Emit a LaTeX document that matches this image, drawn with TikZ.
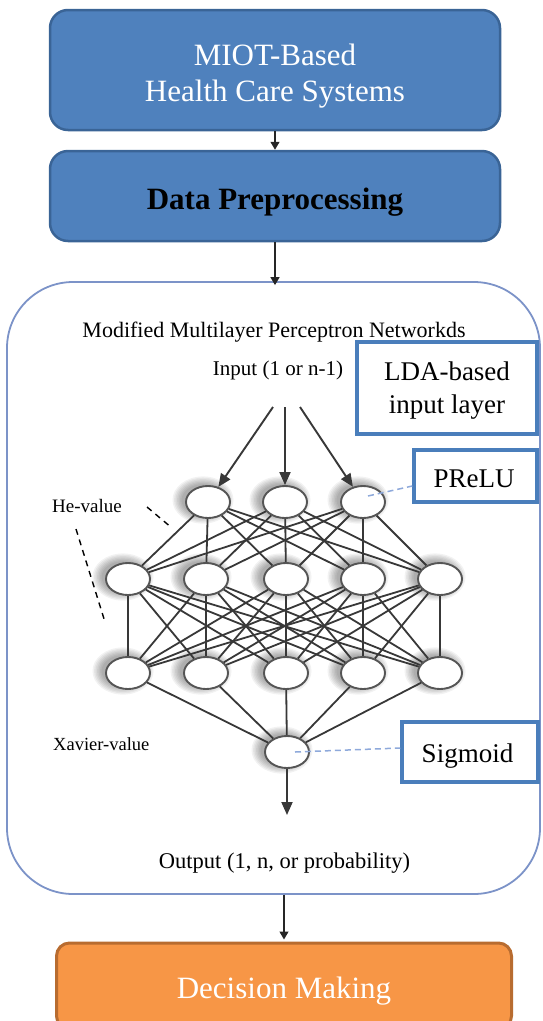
\documentclass[tikz,border=0pt]{standalone}
\usepackage{fontspec}
\setmainfont{Liberation Serif}
\usetikzlibrary{shapes.geometric,arrows.meta}

\definecolor{stageblue}{HTML}{4F81BD}
\definecolor{stageedge}{HTML}{3A6496}
\definecolor{stageorange}{HTML}{F79646}
\definecolor{orangeedge}{HTML}{B86C30}
\definecolor{frameblue}{HTML}{7C93C8}
\definecolor{tagedge}{HTML}{4A7EBB}
\definecolor{leaderblue}{HTML}{8EA9DB}
\definecolor{linkgray}{HTML}{383838}
\definecolor{neurongray}{HTML}{555555}

\begin{document}
\begin{tikzpicture}[x=1pt,y=-1pt,
  stagebox/.style={draw=stageedge, line width=2.5pt, fill=stageblue,
    rounded corners=18pt, minimum width=450pt, inner sep=0pt},
  decisionbox/.style={draw=orangeedge, line width=3pt, fill=stageorange,
    rounded corners=13pt, minimum width=455pt, minimum height=86pt, inner sep=0pt},
  framebox/.style={draw=frameblue, line width=1.8pt, fill=white,
    rounded corners=66pt, minimum width=533pt, minimum height=612pt, inner sep=0pt},
  tagbox/.style={draw=tagedge, line width=3.5pt, fill=white, inner sep=0pt},
  neuron/.style={ellipse, draw=neurongray, line width=1.9pt, fill=white,
    minimum width=44pt, minimum height=32pt, inner sep=0pt},
  link/.style={draw=linkgray, line width=1.8pt},
  flowarrow/.style={draw=black!85, line width=1.3pt,
    -{Triangle[length=8pt,width=9pt]}},
  netarrow/.style={draw=linkgray, line width=1.9pt,
    -{Triangle[length=13pt,width=11pt]}},
  leader/.style={draw=leaderblue, line width=1.5pt, dash pattern=on 6pt off 4pt},
  hint/.style={draw=black, line width=1.4pt, dash pattern=on 6pt off 5pt},
  txt/.style={anchor=base, inner sep=0pt},
]
\useasboundingbox (0,0) rectangle (542,1021);

% ---- pipeline stages ----
\node[stagebox, minimum height=120pt] (miot) at (275,70) {};
\node[txt, text=white, font=\fontsize{31}{37}\selectfont] (miotA) at (275,65) {MIOT-Based};
\node[txt, text=white, font=\fontsize{31}{37}\selectfont] (miotB) at (275,101) {Health Care Systems};

\node[stagebox, minimum height=90pt] (prep) at (275,196) {};
\node[txt, font=\fontsize{31}{37}\selectfont\bfseries] (prepT) at (275,209) {Data Preprocessing};

\node[framebox] (mlp) at (273.5,588) {};

\node[decisionbox] (dec) at (284,986) {};
\node[txt, text=white, font=\fontsize{31}{37}\selectfont] (decT) at (284,998) {Decision Making};

\draw[flowarrow] (miot.south) -- (prep.north);
\draw[flowarrow, shorten >=-4pt] (prep.south) -- (prep.south |- mlp.north);
\draw[flowarrow, shorten >=2pt] (mlp.south -| dec.north) -- (dec.north);

% ---- texts inside the network frame ----
\node[txt, font=\fontsize{22}{26}\selectfont] (title) at (274,337) {Modified Multilayer Perceptron Networkds};
\node[txt, font=\fontsize{21}{25}\selectfont] (inputT) at (278,375) {Input (1 or n-1)};
\node[txt, font=\fontsize{22.5}{26}\selectfont] (outputT) at (284.5,868) {Output (1, n, or probability)};
\node[anchor=base west, inner sep=0pt, font=\fontsize{19}{23}\selectfont] (heT) at (52,512) {He-value};
\node[anchor=base west, inner sep=0pt, font=\fontsize{18.5}{22}\selectfont] (xavT) at (53,750) {Xavier-value};

% ---- annotation boxes ----
\node[tagbox, minimum width=180pt, minimum height=92pt] (lda) at (447,388) {};
\node[txt, font=\fontsize{27}{32}\selectfont] (ldaA) at (447,380) {LDA-based};
\node[txt, font=\fontsize{27}{32}\selectfont] (ldaB) at (447,413) {input layer};

\node[tagbox, minimum width=123pt, minimum height=52pt] (prelu) at (475.5,476) {};
\node[txt, font=\fontsize{27}{32}\selectfont] (preluT) at (474,487) {PReLU};

\node[tagbox, minimum width=136pt, minimum height=60pt] (sig) at (470,752) {};
\node[txt, font=\fontsize{27}{32}\selectfont] (sigT) at (467.5,762) {Sigmoid};

% ---- neuron positions ----
\coordinate (p11) at (208,502);
\coordinate (p12) at (285,502);
\coordinate (p13) at (363,502);
\foreach \i/\x in {1/128,2/206,3/286,4/363,5/440} {
  \coordinate (p2\i) at (\x,579);
  \coordinate (p3\i) at (\x,673);
}
\coordinate (pout) at (287,752);

% soft halos behind the neurons, heavier towards the upper left
\foreach \p in {p11,p12,p13,p21,p22,p23,p24,p25,p31,p32,p33,p34,p35,pout} {
  \foreach \k in {1,...,7} {
    \fill[black, opacity=0.05] ([xshift=-5pt,yshift=2pt]\p)
      ellipse [x radius=20+1.5*\k, y radius=14.5+1.3*\k];
  }
}

% ---- neurons ----
\foreach \i in {1,2,3} { \node[neuron] (n1\i) at (p1\i) {}; }
\foreach \i in {1,...,5} {
  \node[neuron] (n2\i) at (p2\i) {};
  \node[neuron] (n3\i) at (p3\i) {};
}
\node[neuron] (out) at (pout) {};

% ---- connections ----
\foreach \a in {1,2,3} { \foreach \b in {1,...,5} { \draw[link] (n1\a) -- (n2\b); } }
\foreach \a in {1,...,5} { \foreach \b in {1,...,5} { \draw[link] (n2\a) -- (n3\b); } }
\foreach \a in {1,...,5} { \draw[link] (n3\a) -- (out); }

% input and output arrows
\coordinate (inA) at (273,407);
\coordinate (inB) at (285,407);
\coordinate (inC) at (300,407);
\draw[netarrow] (inA) -- (n11);
\draw[netarrow] (inB) -- (n12);
\draw[netarrow] (inC) -- (n13);
\coordinate (outEnd) at (287,815);
\draw[netarrow] (out) -- (outEnd);

% leader lines to the annotation boxes
\draw[leader] ([xshift=5pt,yshift=6pt]n13.center) -- ([yshift=-10pt]prelu.west);
\draw[leader] ([xshift=8pt]out.center) -- ([yshift=4pt]sig.west);

% initialisation hints
\coordinate (heA) at (147,507);
\coordinate (heB) at (172,528);
\coordinate (heC) at (76,529);
\coordinate (heD) at (105,622);
\draw[hint] (heA) -- (heB);
\draw[hint] (heC) -- (heD);
\end{tikzpicture}
\end{document}
